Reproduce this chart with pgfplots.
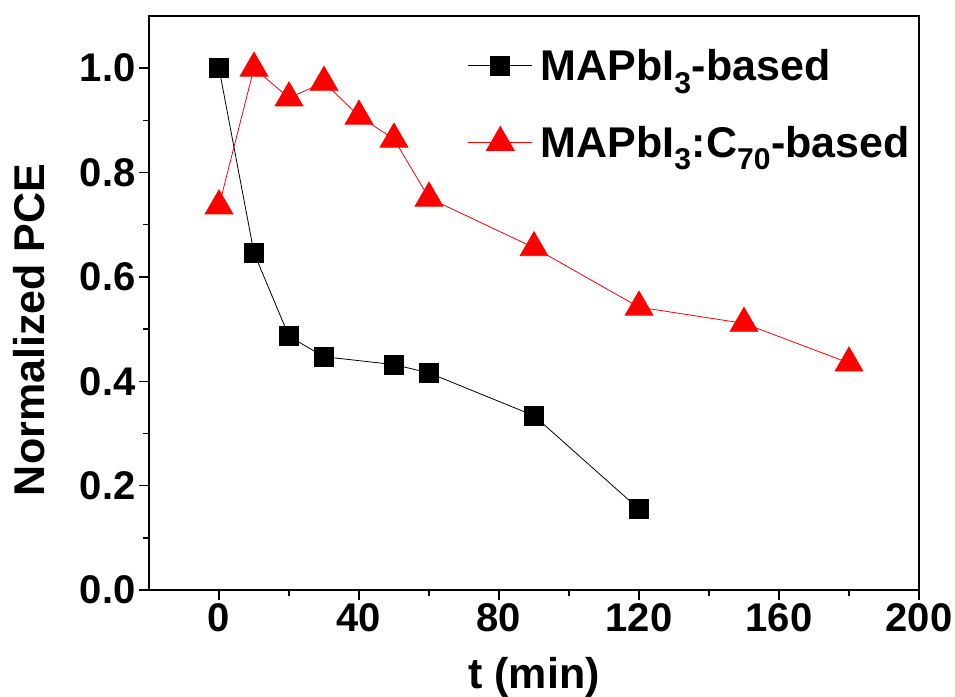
\documentclass[border=0pt]{standalone}
\usepackage{fontspec}
\setmainfont{Liberation Sans}
\usepackage{pgfplots}
\pgfplotsset{compat=1.18}
\begin{document}
\begin{tikzpicture}
\begin{axis}[
 scale only axis, width=770pt, height=574pt,
 xmin=-20, xmax=200, ymin=0, ymax=1.1,
 xtick={0,40,80,120,160,200}, minor x tick num=1,
 ytick={0,0.2,0.4,0.6,0.8,1.0}, minor y tick num=1,
 tick align=outside, xtick pos=bottom, ytick pos=left,
 major tick length=10pt, minor tick length=6pt,
 tick style={line width=1.5pt, black},
 axis line style={line width=2pt},
 ticklabel style={font=\fontsize{40}{44}\selectfont\bfseries},
 /pgf/number format/assume math mode=true,
 yticklabel style={/pgf/number format/fixed, /pgf/number format/fixed zerofill, /pgf/number format/precision=1},
 xlabel={t (min)}, ylabel={Normalized PCE},
 label style={font=\fontsize{43}{47}\selectfont\bfseries},
 xlabel style={at={(axis description cs:0.5,-0.171)}, anchor=base, inner sep=0pt},
 ylabel style={at={(axis description cs:-0.135,0.453)}, anchor=south, rotate=0, inner sep=0pt},
 legend style={at={(axis description cs:0.41,0.949)}, anchor=north west, draw=none, fill=none,
   font=\fontsize{43}{47}\selectfont\bfseries, row sep=40pt},
 legend cell align=left,
 legend image code/.code={\draw[mark repeat=2,mark phase=2,#1] plot coordinates {(0pt,0pt) (32pt,0pt) (64pt,0pt)}; \path (70pt,0pt);},
]
\addplot[black, line width=0.8pt, mark=square*, mark size=9.5pt, mark options={solid, fill=black, draw=black}]
 coordinates {(0,1.0) (10,0.646) (20,0.486) (30,0.447) (50,0.432) (60,0.416) (90,0.334) (120,0.155)};
\addlegendentry{MAPbI\textsubscript{3}-based}
\addplot[red, line width=0.8pt, mark=triangle*, mark size=16pt, mark options={solid, fill=red, draw=red}]
 coordinates {(0,0.736) (10,1.0) (20,0.943) (30,0.973) (40,0.908) (50,0.864) (60,0.751) (90,0.656) (120,0.542) (150,0.511) (180,0.435)};
\addlegendentry{MAPbI\textsubscript{3}:C\textsubscript{70}-based}
\end{axis}
\pgfresetboundingbox
\path ([shift={(-149pt,-107pt)}]current axis.south west) rectangle ([shift={(36pt,16pt)}]current axis.north east);
\end{tikzpicture}
\end{document}
